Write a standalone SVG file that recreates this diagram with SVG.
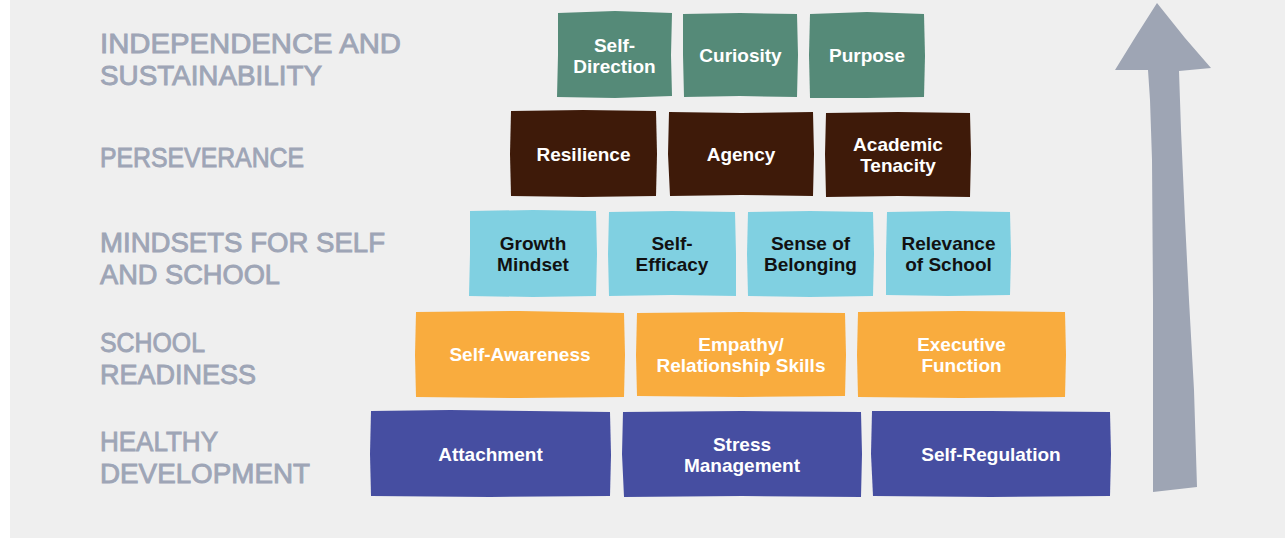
<svg xmlns="http://www.w3.org/2000/svg" width="1285" height="538" viewBox="0 0 1285 538">
<style>
.lbl{font-family:"Liberation Sans",Arial,sans-serif;font-size:28px;fill:#9ea5b6;stroke:#9ea5b6;stroke-width:0.9}
.t{font-family:"Liberation Sans",Arial,sans-serif;font-size:19px;font-weight:bold;text-anchor:middle;fill:#ffffff}
.tk{fill:#111111}
.g{fill:#558a78}
.b{fill:#3e1a09}
.c{fill:#80d0e1}
.o{fill:#f9ac3e}
.v{fill:#464ea1}
</style>
<rect x="0" y="0" width="1285" height="538" fill="#ffffff"/>
<rect x="10" y="0" width="1275" height="538" fill="#efefef"/>

<g id="level-labels">
<text class="lbl" x="100" y="53" textLength="301" lengthAdjust="spacingAndGlyphs">INDEPENDENCE AND</text>
<text class="lbl" x="100" y="85" textLength="222" lengthAdjust="spacingAndGlyphs">SUSTAINABILITY</text>
<text class="lbl" x="100" y="167" textLength="204" lengthAdjust="spacingAndGlyphs">PERSEVERANCE</text>
<text class="lbl" x="100" y="252" textLength="285" lengthAdjust="spacingAndGlyphs">MINDSETS FOR SELF</text>
<text class="lbl" x="100" y="284" textLength="180" lengthAdjust="spacingAndGlyphs">AND SCHOOL</text>
<text class="lbl" x="100" y="352" textLength="105" lengthAdjust="spacingAndGlyphs">SCHOOL</text>
<text class="lbl" x="100" y="384" textLength="156" lengthAdjust="spacingAndGlyphs">READINESS</text>
<text class="lbl" x="100" y="451" textLength="118" lengthAdjust="spacingAndGlyphs">HEALTHY</text>
<text class="lbl" x="100" y="483" textLength="210" lengthAdjust="spacingAndGlyphs">DEVELOPMENT</text>
</g>

<g id="arrow">
<path d="M1157,3 L1185,38 L1211,68 L1179,71 L1181,130 L1185,220 L1189,300 L1194,390 L1197,487 L1153,492 L1153,300 L1152,160 L1150,100 L1148,70 L1115,70 L1136,36 Z" fill="#9ea5b4"/>
</g>

<g id="self-direction">
<path class="g" d="M558,13 L615,11 L672,13 L671,55 L672,96 L615,98 L557,97 L558,55 Z"/>
<text class="t" x="614.5" y="52">Self-</text>
<text class="t" x="614.5" y="73">Direction</text>
</g>
<g id="curiosity">
<path class="g" d="M683,14 L740,13 L797,14 L798,55 L797,97 L740,96 L684,97 L683,55 Z"/>
<text class="t" x="740.5" y="62">Curiosity</text>
</g>
<g id="purpose">
<path class="g" d="M810,14 L867,12 L924,14 L925,56 L924,97 L867,98 L810,98 L809,55 Z"/>
<text class="t" x="867" y="62">Purpose</text>
</g>

<g id="resilience">
<path class="b" d="M511,111 L583,110 L656,111 L657,154 L656,196 L583,197 L511,196 L510,154 Z"/>
<text class="t" x="583.5" y="161">Resilience</text>
</g>
<g id="agency">
<path class="b" d="M669,112 L741,113 L813,112 L814,154 L813,196 L741,195 L670,196 L668,154 Z"/>
<text class="t" x="741" y="161">Agency</text>
</g>
<g id="academic-tenacity">
<path class="b" d="M826,113 L898,112 L970,113 L971,154 L970,197 L898,196 L826,197 L825,154 Z"/>
<text class="t" x="898" y="151">Academic</text>
<text class="t" x="898" y="172">Tenacity</text>
</g>

<g id="growth-mindset">
<path class="c" d="M470,211 L533,210 L596,211 L597,254 L596,296 L533,297 L469,296 L470,254 Z"/>
<text class="t tk" x="533" y="250">Growth</text>
<text class="t tk" x="533" y="271">Mindset</text>
</g>
<g id="self-efficacy">
<path class="c" d="M609,212 L672,211 L735,212 L736,254 L736,296 L672,295 L609,296 L608,254 Z"/>
<text class="t tk" x="672" y="250">Self-</text>
<text class="t tk" x="672" y="271">Efficacy</text>
</g>
<g id="sense-of-belonging">
<path class="c" d="M748,212 L810,211 L873,212 L874,254 L873,296 L810,297 L748,296 L747,254 Z"/>
<text class="t tk" x="810.5" y="250">Sense of</text>
<text class="t tk" x="810.5" y="271">Belonging</text>
</g>
<g id="relevance-of-school">
<path class="c" d="M887,212 L948,211 L1010,212 L1011,254 L1010,295 L948,296 L886,295 L886,254 Z"/>
<text class="t tk" x="948.5" y="250">Relevance</text>
<text class="t tk" x="948.5" y="271">of School</text>
</g>

<g id="self-awareness">
<path class="o" d="M416,312 L520,311 L624,313 L625,355 L624,397 L520,398 L416,397 L415,355 Z"/>
<text class="t" x="520" y="361">Self-Awareness</text>
</g>
<g id="empathy-relationship-skills">
<path class="o" d="M637,313 L741,312 L845,313 L846,355 L845,396 L741,397 L637,396 L636,355 Z"/>
<text class="t" x="741" y="351">Empathy/</text>
<text class="t" x="741" y="372">Relationship Skills</text>
</g>
<g id="executive-function">
<path class="o" d="M858,312 L961,311 L1065,312 L1066,355 L1065,397 L961,398 L858,397 L857,355 Z"/>
<text class="t" x="961.5" y="351">Executive</text>
<text class="t" x="961.5" y="372">Function</text>
</g>

<g id="attachment">
<path class="v" d="M371,411 L450,410 L530,411 L610,412 L611,455 L610,496 L490,497 L371,496 L370,454 Z"/>
<text class="t" x="490.5" y="461">Attachment</text>
</g>
<g id="stress-management">
<path class="v" d="M623,412 L742,411 L861,412 L862,454 L861,497 L742,496 L624,497 L622,454 Z"/>
<text class="t" x="742" y="451">Stress</text>
<text class="t" x="742" y="472">Management</text>
</g>
<g id="self-regulation">
<path class="v" d="M872,411 L991,411 L1110,412 L1111,454 L1110,496 L991,497 L873,496 L871,454 Z"/>
<text class="t" x="991" y="461">Self-Regulation</text>
</g>
</svg>
